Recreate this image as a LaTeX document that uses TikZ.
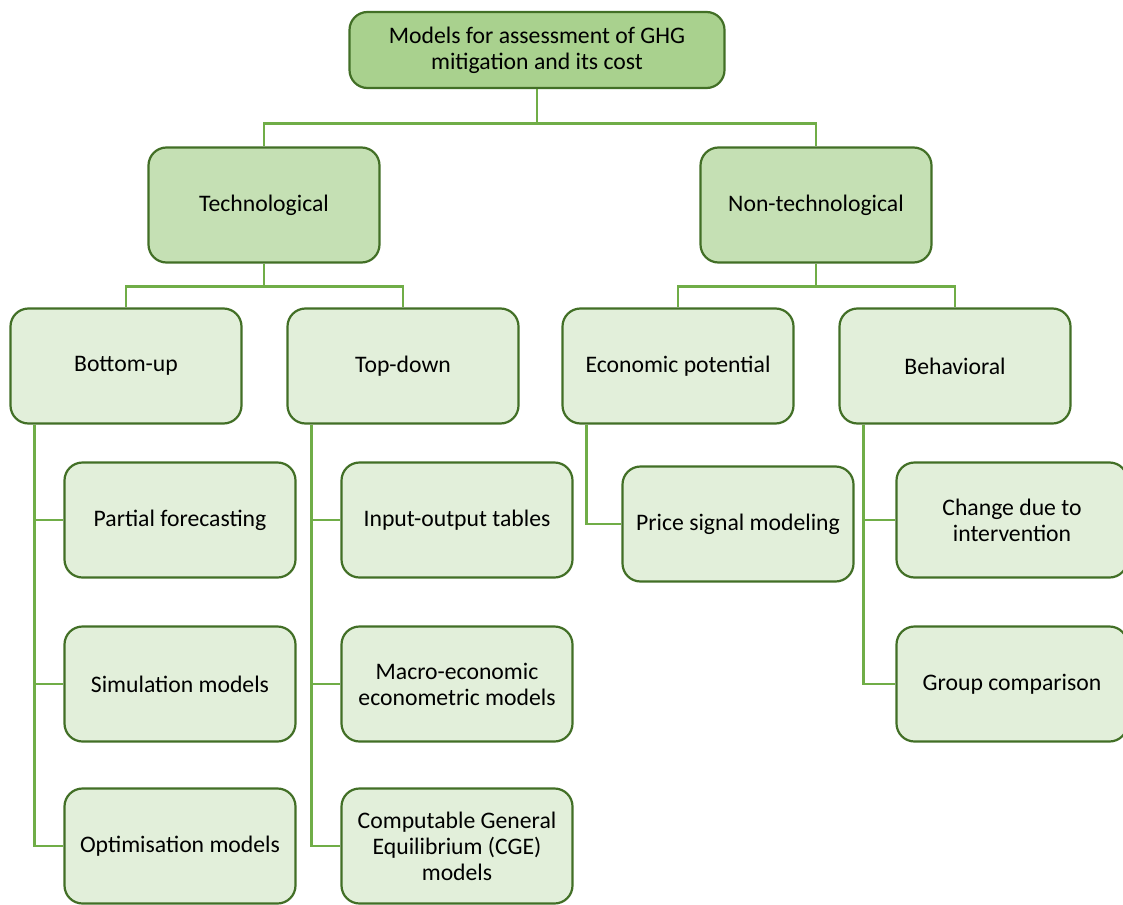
\documentclass[tikz,border=0pt]{standalone}
\usepackage{fontspec}
\setmainfont{Carlito}
\usepackage{xcolor}
\usepackage{tikz}
\usetikzlibrary{positioning}

\definecolor{rootgreen}{HTML}{A9D18E}
\definecolor{midgreen}{HTML}{C5E0B4}
\definecolor{leafgreen}{HTML}{E2EFDA}
\definecolor{edgegreen}{HTML}{426F26}
\definecolor{linegreen}{HTML}{70AD47}

\tikzset{
    box/.style = {draw=edgegreen, line width=1.1pt, rounded corners=9pt,
                  align=center, minimum width=115.5pt, minimum height=57.5pt,
                  inner sep=2pt, font=\fontsize{11.85}{13}\selectfont},
    rootbox/.style = {box, fill=rootgreen, minimum width=187.5pt, minimum height=38pt},
    midbox/.style = {box, fill=midgreen},
    leafbox/.style = {box, fill=leafgreen},
    conn/.style = {draw=linegreen, line width=1.4pt}
}

\begin{document}
\begin{tikzpicture}[x=0.5pt, y=-0.5pt]
            \useasboundingbox (0,0) rectangle (1123,904);

            %top levels
            \node[rootbox] (root) at (537,50) {Models for assessment of GHG\\mitigation and its cost};
            \node[midbox] (tech) at (264,205) {Technological};
            \node[midbox] (nontech) at (816,205) {Non-technological};

            %groups
            \node[leafbox] (bu) at (126,366) {Bottom-up};
            \node[leafbox] (td) at (403,366) {Top-down};
            \node[leafbox] (ep) at (678,366) {Economic potential};
            \node[leafbox] (beh) at (955,366) {Behavioral};

            %models
            \node[leafbox] (pf) at (180,520) {Partial forecasting};
            \node[leafbox] (sim) at (180,684) {Simulation models};
            \node[leafbox] (opt) at (180,846) {Optimisation models};
            \node[leafbox] (io) at (457,520) {Input-output tables};
            \node[leafbox] (macro) at (457,684) {Macro-economic\\econometric models};
            \node[leafbox] (cge) at (457,846) {Computable General\\Equilibrium (CGE)\\models};
            \node[leafbox] (price) at (738,524) {Price signal modeling};
            \node[leafbox] (change) at (1012,520) {Change due to\\intervention};
            \node[leafbox] (group) at (1012,684) {Group comparison};

            %tree connectors
            \draw[conn] (root.south) -- ++(0,34) -| (tech.north);
            \draw[conn] (root.south) -- ++(0,34) -| (nontech.north);
            \foreach \a/\b in {tech/bu, tech/td, nontech/ep, nontech/beh}
                \draw[conn] (\a.south) -- ++(0,23) -| (\b.north);

            %side connectors
            \foreach \a/\b in {bu/pf, bu/sim, bu/opt, td/io, td/macro, td/cge, ep/price, beh/change, beh/group}
                \draw[conn] ([xshift=12.5pt]\a.south west) |- (\b.west);
\end{tikzpicture}
\end{document}
